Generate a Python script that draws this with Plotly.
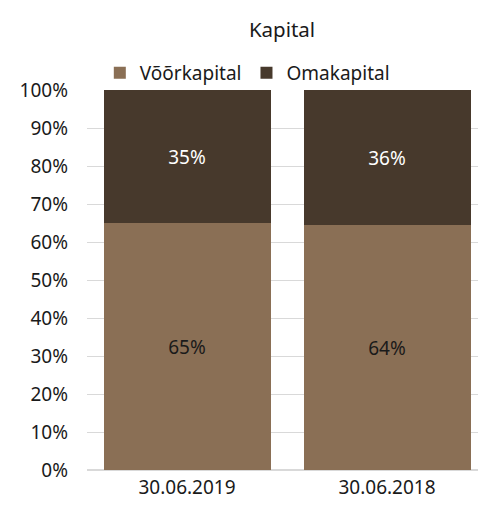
import plotly.graph_objects as go

categories = ["30.06.2019", "30.06.2018"]
vooorkapital = [65.0, 64.4]
omakapital = [35.0, 35.6]
y_ticks = list(range(0, 101, 10))
y_tick_labels = [f"{v}%" for v in y_ticks]

FONT = "Noto Sans"
FS = 19

fig = go.Figure()
fig.add_trace(go.Bar(
    name="Võõrkapital", x=categories, y=vooorkapital,
    marker=dict(color="#8A6F55", line=dict(width=0)),
    text=[f"{v:.0f}%" for v in vooorkapital], textposition="inside",
    insidetextanchor="middle", textfont=dict(color="#1a1a1a", size=FS, family=FONT),
))
fig.add_trace(go.Bar(
    name="Omakapital", x=categories, y=omakapital,
    marker=dict(color="#47392C", line=dict(width=0)),
    text=[f"{v:.0f}%" for v in omakapital], textposition="inside",
    insidetextanchor="middle", textfont=dict(color="white", size=FS, family=FONT),
))

fig.update_layout(
    barmode="stack",
    bargap=0.165,
    width=478, height=509,
    paper_bgcolor="white", plot_bgcolor="white",
    font=dict(family=FONT, size=FS, color="#1a1a1a"),
    title=dict(text="Kapital", x=0.59, xanchor="center", y=1 - 30 / 509, yanchor="middle",
               font=dict(size=20.5, family=FONT, color="#1a1a1a")),
    legend=dict(orientation="h", x=0.41, xanchor="center", y=0.995, yanchor="bottom",
                font=dict(size=FS, family=FONT), tracegroupgap=0, bgcolor="rgba(0,0,0,0)",
                traceorder="normal", itemwidth=30),
    margin=dict(l=87, r=0, t=90, b=39, pad=0),
    uniformtext=dict(minsize=10, mode="show"),
    xaxis=dict(range=[-0.5, 1.455], showline=False, ticks="", tickfont=dict(size=FS),
               showgrid=False, ticklabelstandoff=4),
    yaxis=dict(range=[0, 100], tickvals=y_ticks, ticktext=y_tick_labels,
               showgrid=True, gridcolor="#D9D9D9", gridwidth=1, zeroline=True,
               zerolinecolor="#D9D9D9", ticks="", tickfont=dict(size=FS), ticklabelstandoff=18),
)

fig.write_html("out.html", config={"displayModeBar": False},
               post_script="document.body.style.margin='0';document.body.style.overflow='hidden';")
